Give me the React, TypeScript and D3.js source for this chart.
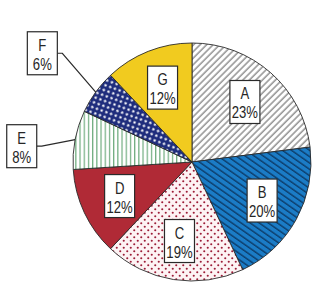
import { useRef, useEffect } from 'react';
import * as d3 from 'd3';

// slice data, clockwise from 12 o'clock
const categories = ['A', 'B', 'C', 'D', 'E', 'F', 'G'];
const shares = [23, 20, 19, 12, 8, 6, 12];
const fills = ['url(#pA)', 'url(#pB)', 'url(#pC)', '#b02a36', 'url(#pE)', 'url(#pF)', '#f1cb1f'];
const outside = ['E', 'F'];

const W = 315, H = 285;
const cx = 192, cy = 162, R = 119;
const boxW = 30, boxH = 43;

// where the outside boxes sit (polar, from the pie centre)
const outsideLayout: Record<string, { r: number; da: number }> = {
  E: { r: 171, da: -5.5 },
  F: { r: 185, da: 0 },
};

const App = () => {
  const ref = useRef<SVGSVGElement>(null);

  useEffect(() => {
    const svg = d3.select(ref.current);
    svg.selectAll('*').remove();

    const defs = svg.append('defs');

    // A: grey "/" hatching
    const pA = defs.append('pattern').attr('id', 'pA').attr('patternUnits', 'userSpaceOnUse')
      .attr('width', 4.6).attr('height', 4.6).attr('patternTransform', 'rotate(45)');
    pA.append('rect').attr('width', 4.6).attr('height', 4.6).attr('fill', '#fff');
    pA.append('line').attr('x1', 1).attr('x2', 1).attr('y1', 0).attr('y2', 4.6)
      .attr('stroke', '#6a6a6a').attr('stroke-width', 1.1);

    // B: blue with dark "\" lines
    const pB = defs.append('pattern').attr('id', 'pB').attr('patternUnits', 'userSpaceOnUse')
      .attr('width', 5.2).attr('height', 5.2).attr('patternTransform', 'rotate(35)');
    pB.append('rect').attr('width', 5.2).attr('height', 5.2).attr('fill', '#1b7cc6');
    pB.append('line').attr('x1', 0).attr('x2', 5.2).attr('y1', 1).attr('y2', 1)
      .attr('stroke', '#0c3b68').attr('stroke-width', 1.4);

    // C: red dots on white, staggered
    const pC = defs.append('pattern').attr('id', 'pC').attr('patternUnits', 'userSpaceOnUse')
      .attr('width', 7).attr('height', 7);
    pC.append('rect').attr('width', 7).attr('height', 7).attr('fill', '#fdf3f4');
    [[1.75, 1.75], [5.25, 5.25]].forEach(([x, y]) =>
      pC.append('circle').attr('cx', x).attr('cy', y).attr('r', 1.05).attr('fill', '#9c1d38'));

    // E: green vertical lines
    const pE = defs.append('pattern').attr('id', 'pE').attr('patternUnits', 'userSpaceOnUse')
      .attr('width', 4.2).attr('height', 4.2);
    pE.append('rect').attr('width', 4.2).attr('height', 4.2).attr('fill', '#fff');
    pE.append('line').attr('x1', 1.5).attr('x2', 1.5).attr('y1', 0).attr('y2', 4.2)
      .attr('stroke', '#4f9a62').attr('stroke-width', 1);

    // F: navy with white dots
    const pF = defs.append('pattern').attr('id', 'pF').attr('patternUnits', 'userSpaceOnUse')
      .attr('width', 10).attr('height', 10).attr('patternTransform', 'rotate(20)');
    pF.append('rect').attr('width', 10).attr('height', 10).attr('fill', '#1e2c7c');
    [[2.5, 2.5], [7.5, 7.5], [7.5, 2.5], [2.5, 7.5]].forEach(([x, y]) =>
      pF.append('circle').attr('cx', x).attr('cy', y).attr('r', 1.2).attr('fill', '#fff'));

    svg.append('rect').attr('width', W).attr('height', H).attr('fill', '#fff');

    const pie = d3.pie<number>().sort(null).value(d => d);
    const arcs = pie(shares);
    const arc = d3.arc<d3.PieArcDatum<number>>().innerRadius(0).outerRadius(R);
    const labelArc = d3.arc<d3.PieArcDatum<number>>().innerRadius(80).outerRadius(80);

    const g = svg.append('g').attr('transform', `translate(${cx},${cy})`);

    g.selectAll('path.slice')
      .data(arcs)
      .join('path')
      .attr('class', 'slice')
      .attr('d', arc)
      .attr('fill', (_, i) => fills[i])
      .attr('stroke', '#2a2a2a')
      .attr('stroke-width', 0.9)
      .attr('stroke-linejoin', 'round');

    const drawBox = (x: number, y: number, i: number) => {
      const b = g.append('g').attr('transform', `translate(${x},${y})`);
      b.append('rect')
        .attr('x', -boxW / 2).attr('y', -boxH / 2)
        .attr('width', boxW).attr('height', boxH)
        .attr('fill', '#fff').attr('stroke', '#2a2a2a').attr('stroke-width', 1.2);
      const t = b.append('g').attr('transform', 'scale(0.82,1)')
        .attr('font-family', 'Liberation Sans, Arial, sans-serif')
        .attr('font-size', 16).attr('fill', '#262626').attr('text-anchor', 'middle');
      t.append('text').attr('y', -2.5).text(categories[i]);
      t.append('text').attr('y', 16.5).text(`${shares[i]}%`);
    };

    arcs.forEach((a, i) => {
      const name = categories[i];
      if (outside.includes(name)) {
        const lay = outsideLayout[name];
        const mid = (a.startAngle + a.endAngle) / 2;
        const ang = mid + (lay.da * Math.PI) / 180;
        const bx = lay.r * Math.sin(ang), by = -lay.r * Math.cos(ang);
        const ex = R * Math.sin(mid), ey = -R * Math.cos(mid);
        const sx = bx + boxW / 2;
        g.append('path')
          .attr('d', d3.line()([[sx, by], [sx + 5, by], [ex, ey]]))
          .attr('fill', 'none').attr('stroke', '#2a2a2a').attr('stroke-width', 1.2);
        drawBox(bx, by, i);
      } else {
        const [lx, ly] = labelArc.centroid(a);
        drawBox(lx, ly, i);
      }
    });
  }, []);

  return (
    <svg ref={ref} width={W} height={H}
      style={{ position: 'absolute', left: 0, top: 0, display: 'block' }} />
  );
};

export default App;
